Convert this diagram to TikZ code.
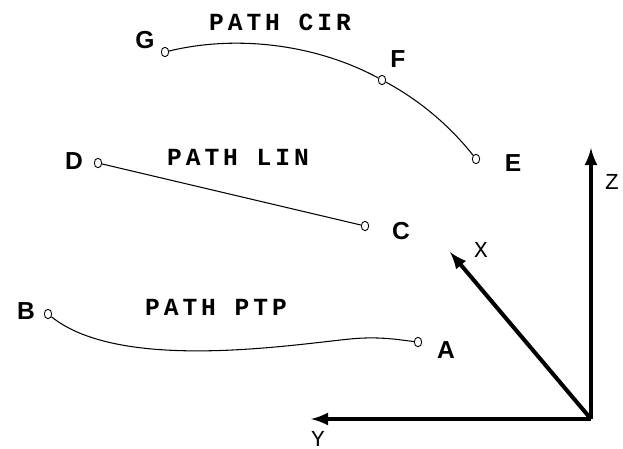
\documentclass[tikz,border=0pt]{standalone}
\usepackage{fontspec}
\setmainfont{Liberation Sans}
\newfontfamily\monofont{Liberation Mono}
\newfontfamily\pathfont[LetterSpace=16]{Liberation Mono}
\usetikzlibrary{arrows}
\usetikzlibrary{shapes.geometric}

\tikzset{
  pt/.style={draw,ellipse,inner sep=0pt,minimum width=4.2pt,minimum height=5.4pt,line width=0.5pt},
  ptlabel/.style={font=\fontsize{14}{14}\selectfont\bfseries},
  pathname/.style={font=\pathfont\fontsize{14}{14}\selectfont\bfseries},
  axis/.style={line width=2.3pt,-latex},
  axlabel/.style={font=\monofont\fontsize{13}{13}\selectfont,inner sep=0pt}
}

\begin{document}
\begin{tikzpicture}[x=0.02cm,y=-0.02cm]
\useasboundingbox (0,0) rectangle (623,449);
% taught points
\node[pt] (g) at (165,52) {};
\node[pt] (f) at (382,80) {};
\node[pt] (e) at (476,159) {};
\node[pt] (d) at (98,163) {};
\node[pt] (c) at (365,226) {};
\node[pt] (b) at (48,314) {};
\node[pt] (a) at (418,342) {};
\node[ptlabel] (lg) at (145,40) {G};
\node[ptlabel] (lf) at (398,59) {F};
\node[ptlabel] (le) at (513,163) {E};
\node[ptlabel] (ld) at (74,161) {D};
\node[ptlabel] (lc) at (401,231) {C};
\node[ptlabel] (lb) at (26,311) {B};
\node[ptlabel] (la) at (446,350) {A};
% motion paths
\draw[line width=0.6pt,looseness=0.85] (g) to[out=13.7,in=151.6] (f) to[out=-28.4,in=128.3] (e);
\draw[line width=0.6pt] (d) -- (c);
\draw[line width=0.6pt] (b) .. controls (120,372) and (290,345) .. (350,339) .. controls (380,336) and (400,340) .. (a);
\node[pathname] (cir) at (280,22) {PATH CIR};
\node[pathname] (lin) at (238,157) {PATH LIN};
\node[pathname] (ptp) at (216,307) {PATH PTP};
% world frame
\coordinate (o) at (591,419);
\coordinate (zend) at (591,148);
\coordinate (yend) at (311,419);
\coordinate (xend) at (450,252);
\draw[axis] (o) -- (zend);
\draw[axis] (o) -- (yend);
\draw[axis] (o) -- (xend);
\node[axlabel] (z) at (612,182) {Z};
\node[axlabel] (x) at (481,250) {X};
\node[axlabel] (y) at (318,439) {Y};
\end{tikzpicture}
\end{document}
